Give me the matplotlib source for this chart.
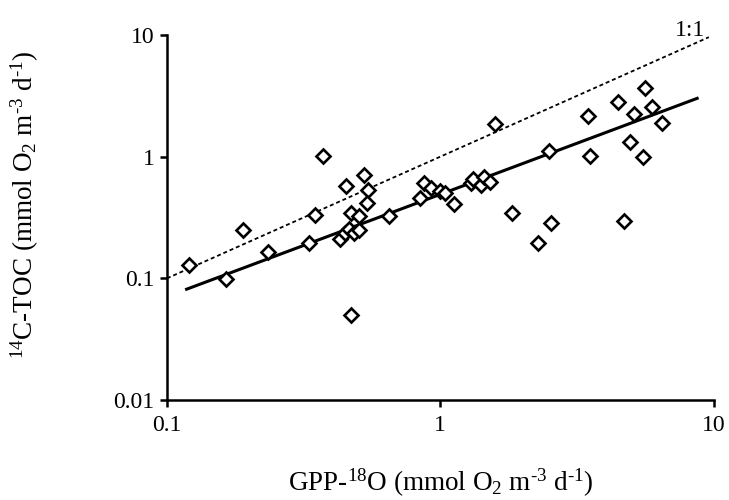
import numpy as np
import matplotlib
matplotlib.use("Agg")
import matplotlib.pyplot as plt

plt.rcParams['font.family'] = ['Liberation Serif', 'DejaVu Serif']
plt.rcParams['mathtext.fontset'] = 'custom'
plt.rcParams['mathtext.rm'] = 'Liberation Serif'
plt.rcParams['mathtext.default'] = 'regular'

# GPP-18O vs 14C-TOC
gpp_18o = [0.12, 0.164, 0.189, 0.234, 0.332, 0.348, 0.372, 0.431, 0.449, 0.451,
           0.473, 0.462, 0.484, 0.506, 0.506, 0.473, 0.525, 0.546, 0.541, 0.649,
           0.845, 0.875, 0.924, 0.998, 1.04, 1.12, 1.29, 1.32, 1.41, 1.45,
           1.52, 1.58, 1.83, 2.27, 2.50, 2.55, 3.48, 3.52, 4.46, 4.71,
           4.94, 5.11, 5.53, 5.59, 5.96, 6.46]
toc_14c = [0.129, 0.098, 0.249, 0.164, 0.196, 0.332, 1.01, 0.209, 0.234, 0.578,
           0.347, 0.253, 0.234, 0.249, 0.325, 0.0497, 0.703, 0.532, 0.419, 0.325,
           0.455, 0.604, 0.549, 0.526, 0.506, 0.405, 0.604, 0.652, 0.585, 0.685,
           0.623, 1.85, 0.347, 0.196, 1.11, 0.287, 2.16, 1.02, 2.83, 0.296,
           1.33, 2.24, 0.99, 3.66, 2.54, 1.88]

# fitted power law y = a * x^b
fit_a = 0.49
fit_b = 0.84
fit_range = [0.118, 8.7]
one_to_one_range = [0.1, 9.6]

fig = plt.figure(figsize=(7.29, 5.0), dpi=100)
ax = fig.add_axes([0.229, 0.2, 0.75, 0.73])

ax.plot(one_to_one_range, one_to_one_range, color='black', lw=1.3,
        linestyle=(0, (2.2, 1.6)))
xf = np.array(fit_range)
ax.plot(xf, fit_a * xf ** fit_b, color='black', lw=2.2)
ax.plot(gpp_18o, toc_14c, linestyle='none', marker='D', ms=7,
        mfc='white', mec='black', mew=1.9)

ax.text(9.3, 9.9, '1:1', fontsize=17, ha='right', va='baseline')

ax.set_xscale('log')
ax.set_yscale('log')
ax.set_xlim(0.1, 10)
ax.set_ylim(0.01, 10)
ax.set_xticks([0.1, 1, 10])
ax.set_xticklabels(['0.1', '1', '10'])
ax.set_yticks([0.01, 0.1, 1, 10])
ax.set_yticklabels(['0.01', '0.1', '1', '10'])
ax.minorticks_off()

for s in ['top', 'right']:
    ax.spines[s].set_visible(False)
for s in ['left', 'bottom']:
    ax.spines[s].set_linewidth(1.8)
ax.tick_params(direction='out', length=5, width=1.8, labelsize=17)
ax.tick_params(axis='x', pad=6)
ax.tick_params(axis='y', pad=4)

ax.set_xlabel(r'GPP-$^{18}$O (mmol O$_2$ m$^{\text{-}3}$ d$^{\text{-}1}$)', fontsize=19.5)
ax.set_ylabel(r'$^{14}$C-TOC (mmol O$_2$ m$^{\text{-}3}$ d$^{\text{-}1}$)', fontsize=19.5)
ax.xaxis.set_label_coords(0.5, -0.227)
ax.xaxis.label.set_va('center')
ax.yaxis.set_label_coords(-0.26, 0.534)
ax.yaxis.label.set_va('center')

fig.savefig('out.png', dpi=100)
